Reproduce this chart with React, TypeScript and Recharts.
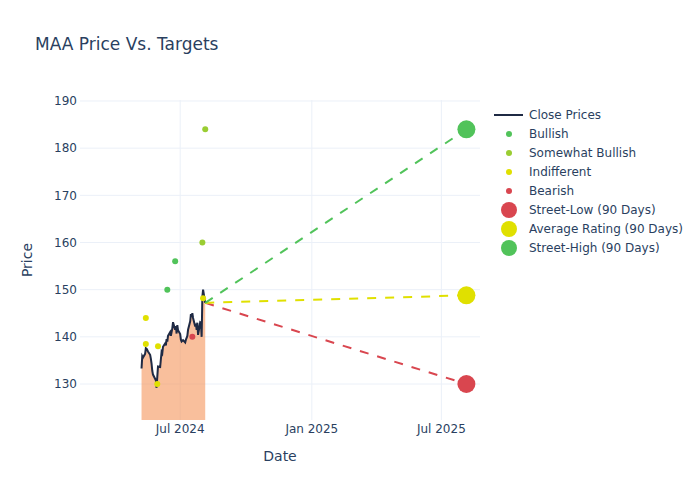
import {
  ComposedChart,
  Area,
  Line,
  Scatter,
  XAxis,
  YAxis,
  CartesianGrid,
  Label,
} from "recharts";

const priceDates = [
  "2024-05-08", "2024-05-09", "2024-05-10", "2024-05-13", "2024-05-14", "2024-05-15",
  "2024-05-16", "2024-05-17", "2024-05-20", "2024-05-21", "2024-05-22", "2024-05-23",
  "2024-05-24", "2024-05-28", "2024-05-29", "2024-05-30", "2024-05-31", "2024-06-03",
  "2024-06-04", "2024-06-05", "2024-06-06", "2024-06-07", "2024-06-10", "2024-06-11",
  "2024-06-12", "2024-06-13", "2024-06-14", "2024-06-17", "2024-06-18", "2024-06-20",
  "2024-06-21", "2024-06-24", "2024-06-25", "2024-06-26", "2024-06-27", "2024-06-28",
  "2024-07-01", "2024-07-02", "2024-07-03", "2024-07-05", "2024-07-08", "2024-07-09",
  "2024-07-10", "2024-07-11", "2024-07-12", "2024-07-15", "2024-07-16", "2024-07-17",
  "2024-07-18", "2024-07-19", "2024-07-22", "2024-07-23", "2024-07-24", "2024-07-25",
  "2024-07-26", "2024-07-29", "2024-07-30", "2024-07-31", "2024-08-01", "2024-08-02",
  "2024-08-05",
];
const closePrices = [
  133.3, 135.9, 135.6, 136.4, 137.6, 137.5,
  137.2, 136.9, 136.2, 135.4, 134.3, 132.8,
  132.0, 130.8, 129.2, 131.5, 133.7, 133.6,
  135.2, 136.8, 136.5, 137.9, 138.6, 138.2,
  139.5, 139.0, 140.2, 141.0, 140.2, 141.8,
  143.1, 141.5, 142.3, 140.7, 142.5, 141.4,
  140.6, 139.4, 139.0, 139.3, 138.8, 139.4,
  139.8, 140.2, 141.5, 143.3, 144.8, 144.2,
  145.0, 144.0, 142.2, 142.8, 141.5, 143.0,
  140.4, 143.1, 143.0, 140.0, 148.5, 150.0,
  147.2,
];

const bullishDates = ["2024-06-13", "2024-06-24"];
const bullishValues = [150, 156];
const somewhatBullishDates = ["2024-08-01", "2024-08-05"];
const somewhatBullishValues = [160, 184];
const indifferentDates = ["2024-05-14", "2024-05-14", "2024-05-31", "2024-05-30", "2024-08-02"];
const indifferentValues = [144, 138.5, 138, 130, 148.2];
const bearishDates = ["2024-07-18"];
const bearishValues = [140];

const targetDate = "2025-08-05";
const streetLow = 130;
const averageRating = 148.8;
const streetHigh = 184;

const xTickDates = ["2024-07-01", "2025-01-01", "2025-07-01"];
const yTicks = [130, 140, 150, 160, 170, 180, 190];
const months = ["Jan", "Feb", "Mar", "Apr", "May", "Jun", "Jul", "Aug", "Sep", "Oct", "Nov", "Dec"];

const GREEN = "#51c35a";
const LIME = "#9acd32";
const YELLOW = "#e0e000";
const RED = "#d9464f";
const NAVY = "#1f2a44";
const TEXT = "#2a3f5f";
const FONT = "'DejaVu Sans', Verdana, sans-serif";

const toPoints = (dates: string[], values: number[]) =>
  dates.map((d, i) => ({ x: Date.parse(d), y: values[i] }));

const price = toPoints(priceDates, closePrices);
const last = price[price.length - 1];
const tx = Date.parse(targetDate);

const bullish = toPoints(bullishDates, bullishValues);
const somewhatBullish = toPoints(somewhatBullishDates, somewhatBullishValues);
const indifferent = toPoints(indifferentDates, indifferentValues);
const bearish = toPoints(bearishDates, bearishValues);

const lowLine = [last, { x: tx, y: streetLow }];
const avgLine = [last, { x: tx, y: averageRating }];
const highLine = [last, { x: tx, y: streetHigh }];

const xTicks = xTickDates.map((d) => Date.parse(d));
const xDomain = [Date.parse("2024-02-12"), Date.parse("2025-08-24")];
const yDomain = [122.37, 190.21];

// grid only at the tick values (no frame at the plot edges)
const gridY = ({ offset }: any) =>
  yTicks.map((t) => offset.top + offset.height * (1 - (t - yDomain[0]) / (yDomain[1] - yDomain[0])));
const gridX = ({ offset }: any) =>
  xTicks.map((t) => offset.left + (offset.width * (t - xDomain[0])) / (xDomain[1] - xDomain[0]));

const dot = (color: string, r: number) => (props: any) =>
  <circle cx={props.cx} cy={props.cy} r={r} fill={color} />;

const legendItems = [
  { name: "Close Prices", kind: "line", color: NAVY },
  { name: "Bullish", kind: "small", color: GREEN },
  { name: "Somewhat Bullish", kind: "small", color: LIME },
  { name: "Indifferent", kind: "small", color: YELLOW },
  { name: "Bearish", kind: "small", color: RED },
  { name: "Street-Low (90 Days)", kind: "big", color: RED },
  { name: "Average Rating (90 Days)", kind: "big", color: YELLOW },
  { name: "Street-High (90 Days)", kind: "big", color: GREEN },
];

function LegendBox() {
  return (
    <svg width={210} height={160}>
      {legendItems.map((it, i) => {
        const y = 10 + i * 19;
        return (
          <g key={it.name}>
            {it.kind === "line" && (
              <line x1={4} x2={33} y1={y} y2={y} stroke={it.color} strokeWidth={2} />
            )}
            {it.kind === "small" && <circle cx={19} cy={y} r={3} fill={it.color} />}
            {it.kind === "big" && <circle cx={19} cy={y} r={8} fill={it.color} />}
            <text x={39} y={y + 4} fontSize={12} fill={TEXT} fontFamily={FONT}>
              {it.name}
            </text>
          </g>
        );
      })}
    </svg>
  );
}

export default function App() {
  return (
    <div style={{ position: "absolute", left: 0, top: 0, width: 700, height: 500, background: "#fff" }}>
      <ComposedChart
        width={700}
        height={500}
        margin={{ top: 100, right: 220, bottom: 0, left: 0 }}
        style={{ fontFamily: FONT }}
      >
        <CartesianGrid
          stroke="#ebf0f8"
          strokeWidth={1}
          horizontalCoordinatesGenerator={gridY}
          verticalCoordinatesGenerator={gridX}
        />
        <XAxis
          dataKey="x"
          type="number"
          domain={xDomain}
          allowDataOverflow
          ticks={xTicks}
          tickFormatter={(v: number) => {
            const d = new Date(v);
            return `${months[d.getUTCMonth()]} ${d.getUTCFullYear()}`;
          }}
          height={80}
          axisLine={false}
          tickLine={false}
          tickSize={0}
          tickMargin={4}
          tick={{ fontSize: 12, fill: TEXT }}
        >
          <Label
            content={() => (
              <text x={280} y={461} textAnchor="middle" fontSize={14} fill={TEXT} fontFamily={FONT}>
                Date
              </text>
            )}
          />
        </XAxis>
        <YAxis
          dataKey="y"
          type="number"
          domain={yDomain}
          allowDataOverflow
          ticks={yTicks}
          width={80}
          axisLine={false}
          tickLine={false}
          tickSize={0}
          tickMargin={3}
          tick={{ fontSize: 12, fill: TEXT }}
        >
          <Label
            content={() => (
              <text
                x={32}
                y={260}
                textAnchor="middle"
                fontSize={14}
                fill={TEXT}
                fontFamily={FONT}
                transform="rotate(-90 32 260)"
              >
                Price
              </text>
            )}
          />
        </YAxis>
        <Area
          data={price}
          dataKey="y"
          type="linear"
          stroke={NAVY}
          strokeWidth={2}
          fill="#f5945a"
          fillOpacity={0.6}
          dot={false}
          activeDot={false}
          isAnimationActive={false}
        />
        <Scatter data={bullish} dataKey="y" shape={dot(GREEN, 3)} isAnimationActive={false} />
        <Scatter data={somewhatBullish} dataKey="y" shape={dot(LIME, 3)} isAnimationActive={false} />
        <Scatter data={indifferent} dataKey="y" shape={dot(YELLOW, 3)} isAnimationActive={false} />
        <Scatter data={bearish} dataKey="y" shape={dot(RED, 3)} isAnimationActive={false} />
        <Line data={lowLine} dataKey="y" stroke={RED} strokeWidth={2} strokeDasharray="9 9" dot={false} activeDot={false} isAnimationActive={false} />
        <Line data={avgLine} dataKey="y" stroke={YELLOW} strokeWidth={2} strokeDasharray="9 9" dot={false} activeDot={false} isAnimationActive={false} />
        <Line data={highLine} dataKey="y" stroke={GREEN} strokeWidth={2} strokeDasharray="9 9" dot={false} activeDot={false} isAnimationActive={false} />
        <Scatter data={[{ x: tx, y: streetLow }]} dataKey="y" shape={dot(RED, 9)} isAnimationActive={false} />
        <Scatter data={[{ x: tx, y: averageRating }]} dataKey="y" shape={dot(YELLOW, 9)} isAnimationActive={false} />
        <Scatter data={[{ x: tx, y: streetHigh }]} dataKey="y" shape={dot(GREEN, 9)} isAnimationActive={false} />
      </ComposedChart>
      <div style={{ position: "absolute", left: 490, top: 105 }}>
        <LegendBox />
      </div>
      <svg width={700} height={500} style={{ position: "absolute", left: 0, top: 0, pointerEvents: "none" }}>
        <text x={35} y={50} fontSize={17} fill={TEXT} fontFamily={FONT}>
          MAA Price Vs. Targets
        </text>
      </svg>
    </div>
  );
}
